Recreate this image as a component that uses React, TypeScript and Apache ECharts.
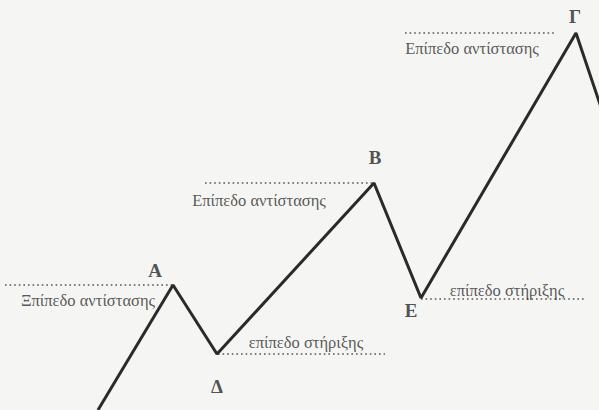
import React, { useEffect, useRef } from "react";
import * as echarts from "echarts";

// Price path (x = time, y = price level)
const pathX = [98, 173, 217, 374, 421, 576, 612];
const pathY = [0, 125, 56, 227, 112, 377, 270];

// Support / resistance levels: [xStart, xEnd, level]
const levelStart = [5, 205, 405, 218, 421];
const levelEnd = [172, 372, 555, 385, 585];
const levelValue = [125, 227, 377, 56, 111];

// Level captions
const captionText = [
  "Ξπίπεδο αντίστασης",
  "Επίπεδο αντίστασης",
  "Επίπεδο αντίστασης",
  "επίπεδο στήριξης",
  "επίπεδο στήριξης",
];
const captionX = [88, 259, 472, 306, 507];
const captionY = [110, 210, 362, 68, 120];

// Turning-point letters
const pointNames = ["A", "B", "Γ", "Δ", "E"];
const pointX = [155, 375, 575, 217, 411];
const pointY = [140, 253, 394, 24, 100];

export default function App() {
  const ref = useRef<HTMLDivElement>(null);
  useEffect(() => {
    if (!ref.current) return;
    const chart = echarts.init(ref.current, null, { renderer: "svg" });
    const font = "'Liberation Serif', 'DejaVu Serif', serif";
    chart.setOption({
      animation: false,
      backgroundColor: "#f5f5f3",
      grid: { left: 0, right: 0, top: 0, bottom: 0 },
      xAxis: { type: "value", min: 0, max: 599, show: false },
      yAxis: { type: "value", min: 0, max: 410, show: false },
      series: [
        {
          type: "line",
          data: pathX.map((x, i) => [x, pathY[i]]),
          symbol: "none",
          clip: true,
          lineStyle: { color: "#2a2a2a", width: 3 },
          z: 5,
        },
        ...levelValue.map((v, i) => ({
          type: "line",
          data: [
            [levelStart[i], v],
            [levelEnd[i], v],
          ],
          symbol: "none",
          lineStyle: { color: "#555", width: 1.6, type: [1.6, 3] },
          z: 3,
        })),
        {
          type: "scatter",
          symbolSize: 0,
          data: captionText.map((t, i) => ({ name: t, value: [captionX[i], captionY[i]] })),
          label: {
            show: true,
            position: "inside",
            formatter: "{b}",
            fontFamily: font,
            fontSize: 16.5,
            color: "#2e2e2e",
          },
          z: 6,
        },
        {
          type: "scatter",
          symbolSize: 0,
          data: pointNames.map((t, i) => ({ name: t, value: [pointX[i], pointY[i]] })),
          label: {
            show: true,
            position: "inside",
            formatter: "{b}",
            fontFamily: font,
            fontSize: 19,
            fontWeight: "bold",
            color: "#262626",
          },
          z: 6,
        },
      ],
    });
    return () => chart.dispose();
  }, []);
  return (
    <div
      ref={ref}
      style={{ position: "fixed", left: 0, top: 0, width: 599, height: 410 }}
    />
  );
}
